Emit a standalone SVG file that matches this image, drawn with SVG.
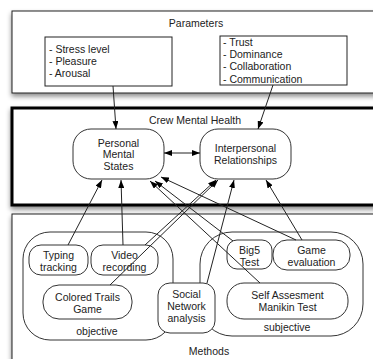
<svg xmlns="http://www.w3.org/2000/svg" width="373" height="359" viewBox="0 0 373 359">
<defs>
<style>
text{font-family:"Liberation Sans",Arial,sans-serif;font-size:10.5px;fill:#222;}
.c{text-anchor:middle;}
.big{fill:#fff;stroke:#222;stroke-width:1;}
.thick{fill:#fff;stroke:#000;stroke-width:3;}
.box{fill:#fff;stroke:#222;stroke-width:1;}
.node{fill:#fff;stroke:#333;stroke-width:1;}
.grp{fill:none;stroke:#333;stroke-width:1;}
.ln{fill:none;stroke:#222;stroke-width:1;marker-end:url(#ah);}
</style>
<filter id="sh" x="-10%" y="-10%" width="120%" height="130%">
<feDropShadow dx="0" dy="3" stdDeviation="2.5" flood-color="#000" flood-opacity="0.45"/>
</filter>
<marker id="ah" markerUnits="userSpaceOnUse" markerWidth="8" markerHeight="6" refX="8" refY="3" orient="auto-start-reverse">
<path d="M0,0 L8,3 L0,6 z" fill="#000"/>
</marker>
</defs>
<g id="parameters">
<rect class="big" x="12" y="11" width="372" height="82" filter="url(#sh)"/>
<text class="c" x="196" y="27">Parameters</text>
<g id="personal-params">
<rect class="box" x="45" y="37" width="127" height="49"/>
<text x="49" y="52.5">- Stress level</text>
<text x="49" y="64.8">- Pleasure</text>
<text x="49" y="77.1">- Arousal</text>
</g>
<g id="interpersonal-params">
<rect class="box" x="220" y="36" width="127" height="49"/>
<text x="223" y="45.6">- Trust</text>
<text x="223" y="57.9">- Dominance</text>
<text x="223" y="70.2">- Collaboration</text>
<text x="223" y="82.5">- Communication</text>
</g>
</g>
<g id="crew-mental-health">
<rect class="thick" x="12" y="108" width="372" height="97" filter="url(#sh)"/>
<text class="c" x="195" y="124">Crew Mental Health</text>
<g id="personal-mental-states">
<rect class="node" x="73" y="129" width="91" height="50" rx="18"/>
<text class="c" x="118.5" y="146.5">Personal</text>
<text class="c" x="118.5" y="158">Mental</text>
<text class="c" x="118.5" y="169.5">States</text>
</g>
<g id="interpersonal-relationships">
<rect class="node" x="200" y="129" width="91" height="50" rx="18"/>
<text class="c" x="245.5" y="151.5">Interpersonal</text>
<text class="c" x="245.5" y="163.5">Relationships</text>
</g>
</g>
<g id="methods">
<rect class="big" x="12" y="214" width="372" height="155" filter="url(#sh)"/>
<text class="c" x="209" y="355">Methods</text>
<g id="objective">
<rect class="grp" x="23" y="232" width="150" height="108" rx="27"/>
<text class="c" x="97" y="335">objective</text>
</g>
<g id="subjective">
<rect class="grp" x="200" y="232" width="163" height="104" rx="32"/>
<text class="c" x="287" y="331">subjective</text>
</g>
<g id="typing-tracking">
<rect class="node" x="29" y="245" width="59" height="30" rx="12"/>
<text class="c" x="58.5" y="258.5">Typing</text>
<text class="c" x="58.5" y="270.5">tracking</text>
</g>
<g id="video-recording">
<rect class="node" x="91" y="245" width="67" height="30" rx="12"/>
<text class="c" x="124.5" y="258.5">Video</text>
<text class="c" x="124.5" y="270.5">recording</text>
</g>
<g id="colored-trails-game">
<rect class="node" x="43" y="285" width="89" height="34" rx="16"/>
<text class="c" x="87.5" y="300.5">Colored Trails</text>
<text class="c" x="87.5" y="312.5">Game</text>
</g>
<g id="social-network-analysis">
<rect class="node" x="158" y="283" width="57" height="50" rx="12"/>
<text class="c" x="186.5" y="297.5">Social</text>
<text class="c" x="186.5" y="309.5">Network</text>
<text class="c" x="186.5" y="321.5">analysis</text>
</g>
<g id="big5-test">
<rect class="node" x="227" y="240" width="45" height="29" rx="10"/>
<text class="c" x="249.5" y="253.5">Big5</text>
<text class="c" x="249.5" y="265.5">Test</text>
</g>
<g id="game-evaluation">
<rect class="node" x="273" y="240" width="77" height="30" rx="14"/>
<text class="c" x="311.5" y="253.5">Game</text>
<text class="c" x="311.5" y="265.5">evaluation</text>
</g>
<g id="self-assesment-manikin-test">
<rect class="node" x="227" y="283" width="121" height="36" rx="17"/>
<text class="c" x="287.5" y="298.5">Self Assesment</text>
<text class="c" x="287.5" y="310.5">Manikin Test</text>
</g>
</g>
<g id="connectors">
<line class="ln" x1="113" y1="86" x2="116" y2="129"/>
<line class="ln" x1="273" y1="85" x2="258" y2="129"/>
<line class="ln" x1="164" y1="153" x2="200" y2="153" marker-start="url(#ah)"/>
<line class="ln" x1="68" y1="245" x2="102" y2="180"/>
<line class="ln" x1="123" y1="245" x2="121" y2="180"/>
<line class="ln" x1="145" y1="245" x2="216" y2="180"/>
<line class="ln" x1="110" y1="285" x2="218" y2="180"/>
<line class="ln" x1="207" y1="283" x2="234" y2="180"/>
<line class="ln" x1="302" y1="240" x2="266" y2="180"/>
<line class="ln" x1="260" y1="283" x2="150" y2="181"/>
<line class="ln" x1="233" y1="241" x2="155" y2="181"/>
<line class="ln" x1="296" y1="240" x2="161" y2="177"/>
</g>
</svg>
